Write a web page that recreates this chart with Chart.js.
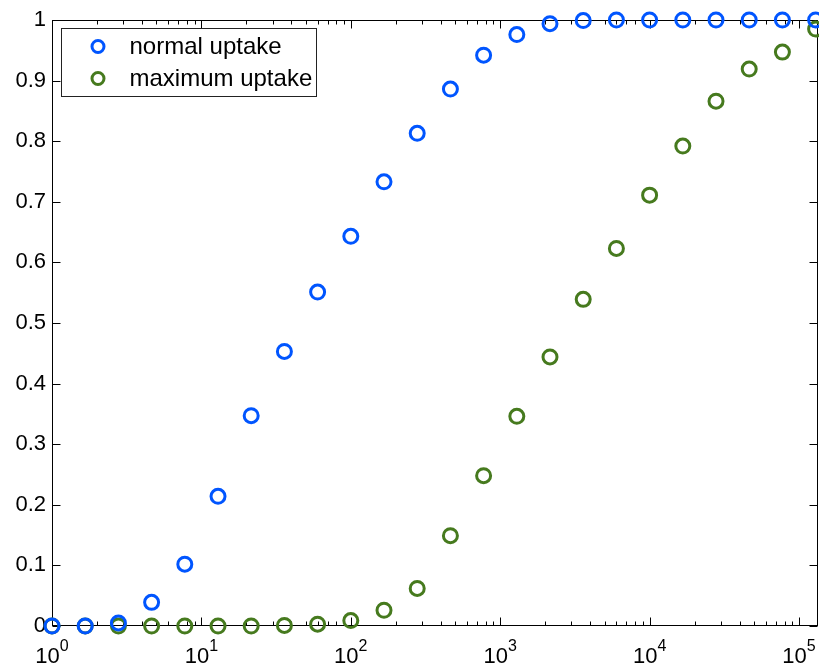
<!DOCTYPE html>
<html lang="en">
<head>
<meta charset="UTF-8">
<title>Uptake</title>
<script src="https://cdn.jsdelivr.net/npm/chart.js"></script>
<style>
  html, body { margin: 0; padding: 0; background: #fff; }
</style>
</head>
<body>
<canvas id="myChart" width="819" height="668"></canvas>
<script>
// sample points (log spaced, 10^(2k/9))
var xVals = [1, 1.668, 2.783, 4.642, 7.743, 12.92, 21.54, 35.94, 59.95, 100,
             166.8, 278.3, 464.2, 774.3, 1292, 2154, 3594, 5995, 10000,
             16681, 27826, 46416, 77426, 129155];
var normalUptake = [0, 0, 0.005, 0.039, 0.102, 0.214, 0.347, 0.453, 0.551, 0.643,
                    0.733, 0.813, 0.886, 0.942, 0.976, 0.994, 0.999, 1, 1,
                    1, 1, 1, 1, 1];
var maxUptake = [0, 0, 0, 0, 0, 0, 0, 0.001, 0.003, 0.009,
                 0.026, 0.062, 0.149, 0.248, 0.346, 0.444, 0.539, 0.623, 0.711,
                 0.792, 0.866, 0.919, 0.947, 0.985];
var seriesNames = ['normal uptake', 'maximum uptake'];
var xTicks = [1, 10, 100, 1000, 10000, 100000];
var yTicks = [0, 0.1, 0.2, 0.3, 0.4, 0.5, 0.6, 0.7, 0.8, 0.9, 1];
var xMax = 134000;

Chart.defaults.font.family = '"Liberation Sans", Arial, Helvetica, sans-serif';
Chart.defaults.color = '#000';

function pts(ys) {
    return xVals.map(function (x, i) { return { x: x, y: ys[i] }; });
}

// MATLAB style box, inward ticks, 10^n labels
const boxAxes = {
    id: 'boxAxes',
    beforeDatasetsDraw(chart) {
        const ctx = chart.ctx, a = chart.chartArea;
        const x = chart.scales.x, y = chart.scales.y;
        const L = Math.round(a.left) + 0.5, R = Math.round(a.right) - 0.5;
        const T = Math.round(a.top) + 0.5, B = Math.round(a.bottom) - 0.5;
        ctx.save();
        ctx.strokeStyle = '#000';
        ctx.lineWidth = 1;
        ctx.strokeRect(L, T, R - L, B - T);
        ctx.beginPath();
        for (let e = 0; e <= 5; e++) {
            for (let m = 1; m <= 9; m++) {
                const v = m * Math.pow(10, e);
                if (v > x.max) break;
                const px = Math.round(x.getPixelForValue(v)) + 0.5;
                const len = m === 1 ? 8 : 4;
                ctx.moveTo(px, B); ctx.lineTo(px, B - len);
                ctx.moveTo(px, T); ctx.lineTo(px, T + len);
            }
        }
        yTicks.forEach(function (v) {
            const py = Math.round(y.getPixelForValue(v)) + 0.5;
            ctx.moveTo(L, py); ctx.lineTo(L + 8, py);
            ctx.moveTo(R, py); ctx.lineTo(R - 8, py);
        });
        ctx.stroke();

        // x tick labels: "10" with raised exponent
        ctx.fillStyle = '#000';
        ctx.textBaseline = 'alphabetic';
        ctx.textAlign = 'left';
        xTicks.forEach(function (v) {
            const px = x.getPixelForValue(v);
            const ex = String(Math.round(Math.log10(v)));
            ctx.font = '22px "Liberation Sans", Arial, sans-serif';
            const wb = ctx.measureText('10').width;
            ctx.font = '16px "Liberation Sans", Arial, sans-serif';
            const we = ctx.measureText(ex).width;
            const x0 = px - (wb + we) / 2;
            ctx.font = '22px "Liberation Sans", Arial, sans-serif';
            ctx.fillText('10', x0, 663);
            ctx.font = '16px "Liberation Sans", Arial, sans-serif';
            ctx.fillText(ex, x0 + wb, 651);
        });
        ctx.restore();
    },
    afterDraw(chart) {
        // legend box in the upper left of the axes
        const ctx = chart.ctx, a = chart.chartArea;
        const bx = Math.round(a.left) + 9.5, by = Math.round(a.top) + 8.5;
        const bw = 255, bh = 68;
        ctx.save();
        ctx.fillStyle = '#fff';
        ctx.fillRect(bx, by, bw, bh);
        ctx.strokeStyle = '#222';
        ctx.lineWidth = 1;
        ctx.strokeRect(bx, by, bw, bh);
        chart.data.datasets.forEach(function (ds, i) {
            const cy = by + 18 + i * 32;
            ctx.beginPath();
            ctx.arc(bx + 36.5, cy, 6, 0, Math.PI * 2);
            ctx.strokeStyle = ds.borderColor;
            ctx.lineWidth = 3;
            ctx.stroke();
            ctx.fillStyle = '#000';
            ctx.font = '24px "Liberation Sans", Arial, sans-serif';
            ctx.textBaseline = 'middle';
            ctx.textAlign = 'left';
            ctx.fillText(ds.label, bx + 68, cy + 1);
        });
        ctx.restore();
    }
};

const ctx = document.getElementById('myChart');

new Chart(ctx, {
    type: 'scatter',
    data: {
        datasets: [{
            label: seriesNames[0],
            data: pts(normalUptake),
            borderColor: 'rgb(0,85,255)',
            backgroundColor: 'rgba(0,0,0,0)',
            pointRadius: 7,
            pointBorderWidth: 3,
            clip: false
        }, {
            label: seriesNames[1],
            data: pts(maxUptake),
            borderColor: 'rgb(70,122,30)',
            backgroundColor: 'rgba(0,0,0,0)',
            pointRadius: 7,
            pointBorderWidth: 3,
            clip: false
        }]
    },
    options: {
        responsive: false,
        animation: false,
        devicePixelRatio: 1,
        layout: { autoPadding: false, padding: { left: 0, top: 20, right: 1, bottom: 0 } },
        plugins: {
            legend: { display: false },
            tooltip: { enabled: false }
        },
        scales: {
            x: {
                type: 'logarithmic',
                min: 1,
                max: xMax,
                grid: { display: false, drawTicks: false },
                border: { display: false },
                ticks: { display: false },
                afterFit: function (s) { s.height = 42; }
            },
            y: {
                min: 0,
                max: 1,
                grid: { display: false, drawTicks: false },
                border: { display: false },
                afterBuildTicks: function (s) {
                    s.ticks = yTicks.map(function (v) { return { value: v }; });
                },
                ticks: {
                    padding: 6,
                    font: { size: 22 },
                    color: '#000',
                    callback: function (v) {
                        return (v === 0 || v === 1) ? String(v) : v.toFixed(1);
                    }
                },
                afterFit: function (s) { s.width = 52; }
            }
        }
    },
    plugins: [boxAxes]
});
</script>
</body>
</html>
